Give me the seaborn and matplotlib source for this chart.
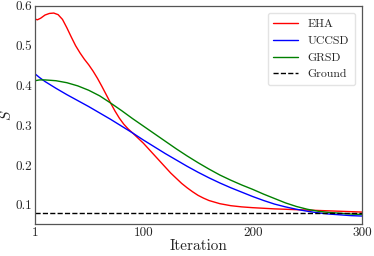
import matplotlib
matplotlib.use("Agg")
import matplotlib.pyplot as plt
import seaborn as sns
import pandas as pd


# ==============================
# DATA
# ==============================

eha_iter = [1, 3, 6, 10, 14, 18, 22, 26, 30, 34, 38, 42, 46, 50, 54, 58,
            62, 66, 70, 74, 78, 82, 86, 90, 95, 100, 105, 110, 115, 120,
            125, 130, 135, 140, 145, 150, 155, 160, 170, 180, 190, 200,
            220, 240, 260, 280, 300]
eha_s = [0.567, 0.565, 0.569, 0.577, 0.581, 0.582, 0.578, 0.566, 0.545,
         0.522, 0.500, 0.482, 0.466, 0.452, 0.436, 0.418, 0.398, 0.377,
         0.356, 0.336, 0.318, 0.303, 0.291, 0.281, 0.268, 0.255, 0.240,
         0.225, 0.210, 0.195, 0.180, 0.167, 0.154, 0.143, 0.133, 0.124,
         0.117, 0.111, 0.103, 0.098, 0.095, 0.093, 0.090, 0.088, 0.086,
         0.084, 0.082]

grid_iter = [1, 5, 10, 20, 30, 40, 50, 60, 70, 80, 90, 100, 110, 120, 130,
             140, 150, 160, 170, 180, 190, 200, 210, 220, 230, 240, 250,
             260, 270, 280, 290, 300]

uccsd_s = [0.429, 0.420, 0.410, 0.393, 0.377, 0.362, 0.347, 0.331, 0.315,
           0.298, 0.281, 0.263, 0.246, 0.229, 0.213, 0.197, 0.182, 0.168,
           0.155, 0.143, 0.132, 0.121, 0.111, 0.102, 0.095, 0.089, 0.084,
           0.080, 0.077, 0.075, 0.073, 0.072]

grsd_s = [0.412, 0.414, 0.414, 0.412, 0.407, 0.399, 0.388, 0.374, 0.356,
          0.337, 0.317, 0.298, 0.279, 0.260, 0.241, 0.223, 0.206, 0.190,
          0.175, 0.162, 0.150, 0.139, 0.127, 0.116, 0.105, 0.096, 0.089,
          0.084, 0.081, 0.079, 0.077, 0.076]

ground_s = 0.08

methods = ["EHA", "UCCSD", "GRSD"]
colors = ["red", "blue", "green"]


# ==============================
# LONG FORMAT TABLE
# ==============================

df = pd.concat([
    pd.DataFrame({"Iteration": eha_iter, "S": eha_s, "method": "EHA"}),
    pd.DataFrame({"Iteration": grid_iter, "S": uccsd_s, "method": "UCCSD"}),
    pd.DataFrame({"Iteration": grid_iter, "S": grsd_s, "method": "GRSD"}),
])


# ==============================
# STYLE
# ==============================

sns.set_style("white")

plt.rcParams["font.family"] = ["cmr10", "DejaVu Serif"]
plt.rcParams["mathtext.fontset"] = "cm"
plt.rcParams["axes.formatter.use_mathtext"] = True


# ==============================
# PLOT
# ==============================

fig = plt.figure(figsize=(3.74, 2.56), dpi=100)
ax = fig.add_axes([0.094, 0.125, 0.874, 0.852])

sns.lineplot(
    data=df,
    x="Iteration",
    y="S",
    hue="method",
    hue_order=methods,
    palette=colors,
    linewidth=1.0,
    ax=ax
)

ax.axhline(
    ground_s,
    color="black",
    linestyle="--",
    linewidth=1.0,
    label="Ground"
)

ax.set_xlim(1, 300)
ax.set_ylim(0.052, 0.6)

ax.set_xticks([1, 100, 200, 300])
ax.set_xticklabels(["1", "100", "200", "300"])
ax.set_yticks([0.1, 0.2, 0.3, 0.4, 0.5, 0.6])
ax.set_yticklabels(["0.1", "0.2", "0.3", "0.4", "0.5", "0.6"])

ax.tick_params(direction="in", length=3, labelsize=9.5, pad=2,
               color="#444444")

ax.set_xlabel("Iteration", fontsize=11, labelpad=0)
ax.set_ylabel("$S$", fontsize=11, labelpad=1)

for sp in ax.spines.values():
    sp.set_color("#555555")
    sp.set_linewidth(0.9)

ax.legend(
    loc="upper right",
    fontsize=8.5,
    frameon=True,
    handlelength=2.1,
    borderpad=0.5,
    labelspacing=0.55,
    borderaxespad=0.6,
    edgecolor="#dddddd",
    fancybox=True
)

plt.savefig("out.png", dpi=100)
